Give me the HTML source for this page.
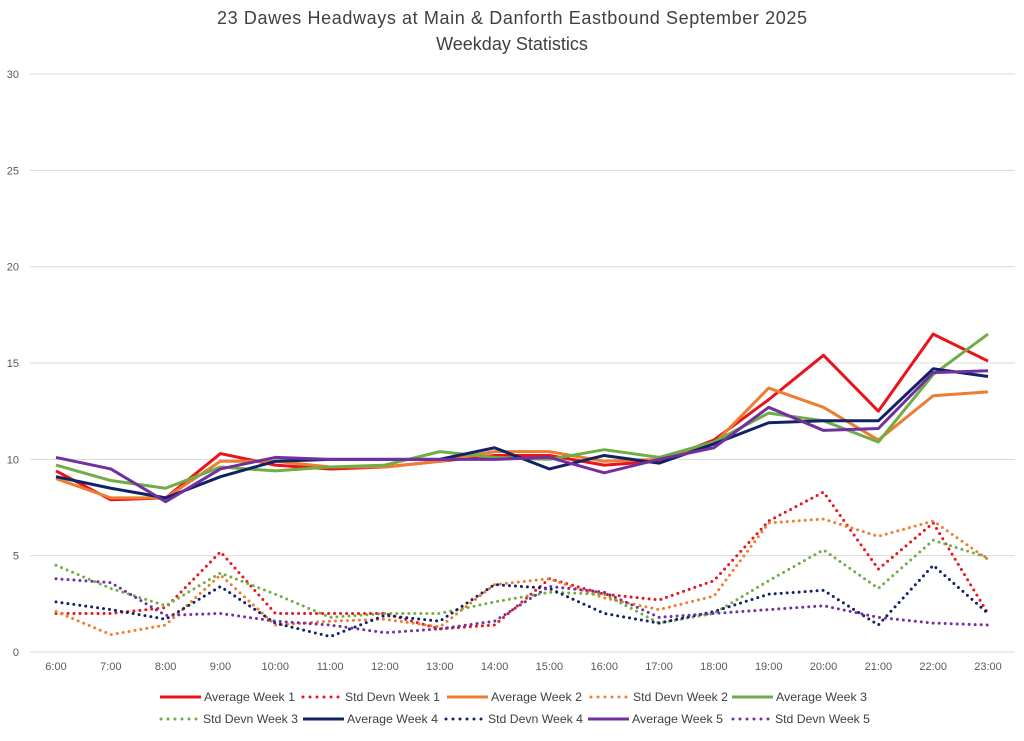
<!DOCTYPE html>
<html><head><meta charset="utf-8"><style>
body{margin:0;background:#fff;font-family:"Liberation Sans",sans-serif}
svg text{font-family:"Liberation Sans",sans-serif}
</style></head><body>
<svg id="c" width="1024" height="736" xmlns="http://www.w3.org/2000/svg">
<text x="512" y="24" text-anchor="middle" font-size="18" fill="#404040" textLength="590">23 Dawes Headways at Main &amp; Danforth Eastbound September 2025</text>
<text x="512" y="50" text-anchor="middle" font-size="18" fill="#404040">Weekday Statistics</text>
<g id="grid"></g><g id="series"></g><g id="legend"></g>
</svg>
<script>
const categories=["6:00","7:00","8:00","9:00","10:00","11:00","12:00","13:00","14:00","15:00","16:00","17:00","18:00","19:00","20:00","21:00","22:00","23:00"];
const yTicks=[0,5,10,15,20,25,30];
const avgW1=[9.4,7.9,8.0,10.3,9.7,9.5,9.6,9.9,10.2,10.2,9.7,9.9,11.0,13.1,15.4,12.5,16.5,15.1];
const avgW2=[9.0,8.0,8.0,9.9,9.9,9.6,9.6,9.9,10.4,10.4,9.9,10.0,10.8,13.7,12.7,11.0,13.3,13.5];
const avgW3=[9.7,8.9,8.5,9.6,9.4,9.6,9.7,10.4,10.1,10.0,10.5,10.1,10.9,12.4,12.0,10.9,14.4,16.5];
const avgW4=[9.1,8.5,8.0,9.1,9.9,10.0,10.0,10.0,10.6,9.5,10.2,9.8,10.8,11.9,12.0,12.0,14.7,14.3];
const avgW5=[10.1,9.5,7.8,9.5,10.1,10.0,10.0,10.0,10.0,10.1,9.3,10.0,10.6,12.7,11.5,11.6,14.5,14.6];
const sdW1=[2.0,2.0,2.3,5.2,2.0,2.0,2.0,1.2,1.4,3.8,3.0,2.7,3.7,6.8,8.3,4.3,6.7,2.0];
const sdW2=[2.1,0.9,1.4,4.0,1.4,1.6,1.7,1.3,3.5,3.8,2.8,2.2,2.9,6.7,6.9,6.0,6.8,4.8];
const sdW3=[4.5,3.3,2.4,4.1,3.0,1.8,2.0,2.0,2.6,3.1,3.0,1.5,2.0,3.7,5.3,3.3,5.8,4.9];
const sdW4=[2.6,2.2,1.7,3.4,1.5,0.8,1.9,1.6,3.5,3.3,2.0,1.5,2.1,3.0,3.2,1.4,4.5,2.0];
const sdW5=[3.8,3.6,1.9,2.0,1.6,1.4,1.0,1.2,1.6,3.4,3.1,1.8,2.0,2.2,2.4,1.8,1.5,1.4];

const NS="http://www.w3.org/2000/svg";
const x0=56,x1=988,yBase=652,yTop=74,yMax=30;
const xs=i=>x0+i*(x1-x0)/(categories.length-1);
const ys=v=>yBase-v*(yBase-yTop)/yMax;
function mk(tag,attrs,parent){const e=document.createElementNS(NS,tag);for(const k in attrs)e.setAttribute(k,attrs[k]);parent.appendChild(e);return e;}
const grid=document.getElementById('grid');
yTicks.forEach(t=>{
 const l=mk('line',{x1:30,x2:1015,y1:ys(t),y2:ys(t),stroke:'#d9d9d9','stroke-width':1},grid);
 
 
 const tx=mk('text',{x:19,y:ys(t)+4,'text-anchor':'end','font-size':11,fill:'#595959'},grid);
 tx.textContent=t;
 
 
});
categories.forEach((c,i)=>{
 const tx=mk('text',{x:xs(i),y:670,'text-anchor':'middle','font-size':11,fill:'#595959'},grid);
 tx.textContent=c;
 
 
});
const series=[
 {n:'Std Devn Week 1',d:sdW1,c:'#e8141a',dot:true},
 {n:'Std Devn Week 2',d:sdW2,c:'#ed7d31',dot:true},
 {n:'Std Devn Week 3',d:sdW3,c:'#70ad47',dot:true},
 {n:'Std Devn Week 4',d:sdW4,c:'#112266',dot:true},
 {n:'Std Devn Week 5',d:sdW5,c:'#7030a0',dot:true},
 {n:'Average Week 1',d:avgW1,c:'#e8141a'},
 {n:'Average Week 2',d:avgW2,c:'#ed7d31'},
 {n:'Average Week 3',d:avgW3,c:'#70ad47'},
 {n:'Average Week 4',d:avgW4,c:'#112266'},
 {n:'Average Week 5',d:avgW5,c:'#7030a0'}
];
const sg=document.getElementById('series');
series.forEach(s=>{
 const pts=s.d.map((v,i)=>xs(i)+','+ys(v)).join(' ');
 const a={points:pts,fill:'none',stroke:s.c,'stroke-width':3,'stroke-linejoin':'round'};
 if(s.dot){a['stroke-dasharray']='0 6';a['stroke-linecap']='round';}
 const p=mk('polyline',a,sg);
 
 
});
const lg=document.getElementById('legend');
const legendItems=[
 ['Average Week 1','#e8141a',0,160,701],['Std Devn Week 1','#e8141a',1,302,701],['Average Week 2','#ed7d31',0,447,701],['Std Devn Week 2','#ed7d31',1,590,701],['Average Week 3','#70ad47',0,732,701],
 ['Std Devn Week 3','#70ad47',1,160,723],['Average Week 4','#112266',0,303,723],['Std Devn Week 4','#112266',1,445,723],['Average Week 5','#7030a0',0,588,723],['Std Devn Week 5','#7030a0',1,732,723]
];
legendItems.forEach(it=>{
 const [n,c,dot,x,y]=it;
 const g=mk('g',{},lg);
 
 
 const w=dot?37:41;
 const a={x1:x+(dot?1:0),x2:x+w,y1:y-4,y2:y-4,stroke:c,'stroke-width':3};
 if(dot){a['stroke-dasharray']='0 7';a['stroke-linecap']='round';}
 mk('line',a,g);
 const t=mk('text',{x:x+w+(dot?6:3),y:y,'font-size':12,fill:'#404040',textLength:n.startsWith('Std')?95:91,lengthAdjust:'spacingAndGlyphs'},g);
 t.textContent=n;
});
</script>
</body></html>
